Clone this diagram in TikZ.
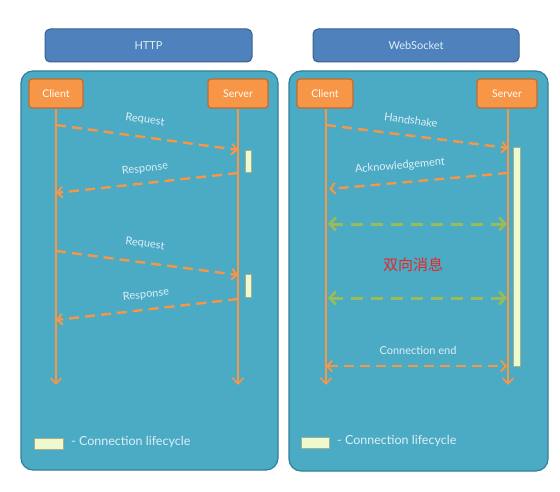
\documentclass[tikz,border=0pt]{standalone}
\usepackage{fontspec}
\setmainfont{Lato}
\newfontfamily\cjk{Noto Sans CJK SC}
\usetikzlibrary{arrows.meta}

\definecolor{hdrblue}{RGB}{79,129,189}
\definecolor{hdredge}{RGB}{60,96,140}
\definecolor{panelfill}{RGB}{75,170,196}
\definecolor{paneledge}{RGB}{52,128,150}
\definecolor{actorfill}{RGB}{247,150,70}
\definecolor{actoredge}{RGB}{190,110,50}
\definecolor{duplex}{RGB}{155,187,89}
\definecolor{lifefill}{RGB}{236,250,205}
\definecolor{lbltext}{RGB}{222,240,246}
\definecolor{cjkred}{RGB}{228,40,40}

\begin{document}
\begin{tikzpicture}[x=1pt,y=-1pt,
  header/.style={draw=hdredge,fill=hdrblue,rounded corners=5,line width=1,
    minimum height=33,text=lbltext,font=\fontsize{11}{12}\selectfont},
  panelbox/.style={draw=paneledge,fill=panelfill,rounded corners=12,line width=1.2},
  actor/.style={draw=actoredge,fill=actorfill,rounded corners=3,line width=1.2,
    minimum height=29,text=white,font=\fontsize{10.5}{12}\selectfont},
  lifeline/.style={draw=actorfill,line width=1.6,-{Straight Barb[length=6,width=11,line width=1.6]}},
  msg/.style={draw=actorfill,line width=2.4,dash pattern=on 10 off 6,
    -{Straight Barb[length=5,width=11,line width=2]}},
  duplexmsg/.style={msg,draw=duplex,line width=3,dash pattern=on 12 off 8,
    {Straight Barb[length=6,width=13,line width=2.6]}-{Straight Barb[length=6,width=13,line width=2.6]}},
  endmsg/.style={msg,line width=2.2,{Straight Barb[length=5,width=11,line width=1.8]}-{Straight Barb[length=5,width=11,line width=1.8]}},
  msglabel/.style={text=lbltext,font=\fontsize{11}{12}\selectfont},
  lifebar/.style={draw=lifefill!70!black,fill=lifefill,line width=0.4,inner sep=0}
]
\useasboundingbox (0,0) rectangle (560,492);

% headers
\node[header,minimum width=207] (httph) at (148.5,45.5) {HTTP};
\node[header,minimum width=206] (wsh) at (416,45.5) {WebSocket};

% panels
\node[panelbox,minimum width=257,minimum height=399] (httpp) at (149.5,270.5) {};
\node[panelbox,minimum width=259,minimum height=400] (wsp) at (418.5,271) {};

% actors
\node[actor,minimum width=54] (hc) at (56,93.5) {Client};
\node[actor,minimum width=60] (hs) at (238,93.5) {Server};
\node[actor,minimum width=56] (wc) at (325,93.5) {Client};
\node[actor,minimum width=60] (ws) at (507,93.5) {Server};

\coordinate (hcend) at (56,385);
\coordinate (hsend) at (238,385);
\coordinate (wcend) at (326,385);
\coordinate (wsend) at (508,385);

\draw[lifeline] (hc.south) -- (hcend);
\draw[lifeline] (hs.south) -- (hsend);
\draw[lifeline] (wc.south -| wcend) -- (wcend);
\draw[lifeline] (ws.south -| wsend) -- (wsend);

% HTTP
\node[lifebar,minimum width=6,minimum height=22] (hbar1) at (248,161) {};
\node[lifebar,minimum width=6,minimum height=23] (hbar2) at (248,285.5) {};

\coordinate (hreq1a) at (56,125);  \coordinate (hreq1b) at (238,150);
\coordinate (hres1a) at (238,173); \coordinate (hres1b) at (56,193);
\coordinate (hreq2a) at (56,251);  \coordinate (hreq2b) at (238,275);
\coordinate (hres2a) at (238,299); \coordinate (hres2b) at (56,320);

\draw[msg] (hreq1a) -- (hreq1b);
\draw[msg] (hres1a) -- (hres1b);
\draw[msg] (hreq2a) -- (hreq2b);
\draw[msg] (hres2a) -- (hres2b);

\node[msglabel,rotate=-8] (hreq1t) at (145,120) {Request};
\node[msglabel,rotate=7] (hres1t) at (145,169) {Response};
\node[msglabel,rotate=-8] (hreq2t) at (145,244) {Request};
\node[msglabel,rotate=7] (hres2t) at (146,295) {Response};

% WebSocket
\node[lifebar,minimum width=7,minimum height=219] (wbar) at (516.5,256.5) {};

\coordinate (whsa) at (326,125);  \coordinate (whsb) at (508,148);
\coordinate (wacka) at (508,173); \coordinate (wackb) at (329,189);
\coordinate (wd1a) at (328,224);  \coordinate (wd1b) at (507,224);
\coordinate (wd2a) at (328,298);  \coordinate (wd2b) at (507,298);
\coordinate (wenda) at (326,366); \coordinate (wendb) at (507,366);

\draw[msg] (whsa) -- (whsb);
\draw[msg] (wacka) -- (wackb);
\draw[duplexmsg] (wd1a) -- (wd1b);
\draw[duplexmsg] (wd2a) -- (wd2b);
\draw[endmsg] (wenda) -- (wendb);

\node[msglabel,rotate=-8] (whst) at (411,120) {Handshake};
\node[msglabel,rotate=5] (wackt) at (400,166) {Acknowledgement};
\node[text=cjkred,font=\cjk\fontsize{15}{16}\selectfont] (wduplext) at (413,265) {双向消息};
\node[msglabel] (wendt) at (418,350) {Connection end};

% legends
\node[lifebar,minimum width=29,minimum height=11] (hleg) at (48.5,443.5) {};
\node[msglabel,anchor=west,font=\fontsize{12.5}{14}\selectfont,inner sep=0] (hlegt) at (71,442) {- Connection lifecycle};
\node[lifebar,minimum width=28,minimum height=11] (wleg) at (315,443) {};
\node[msglabel,anchor=west,font=\fontsize{12.5}{14}\selectfont,inner sep=0] (wlegt) at (337,441) {- Connection lifecycle};
\end{tikzpicture}
\end{document}
